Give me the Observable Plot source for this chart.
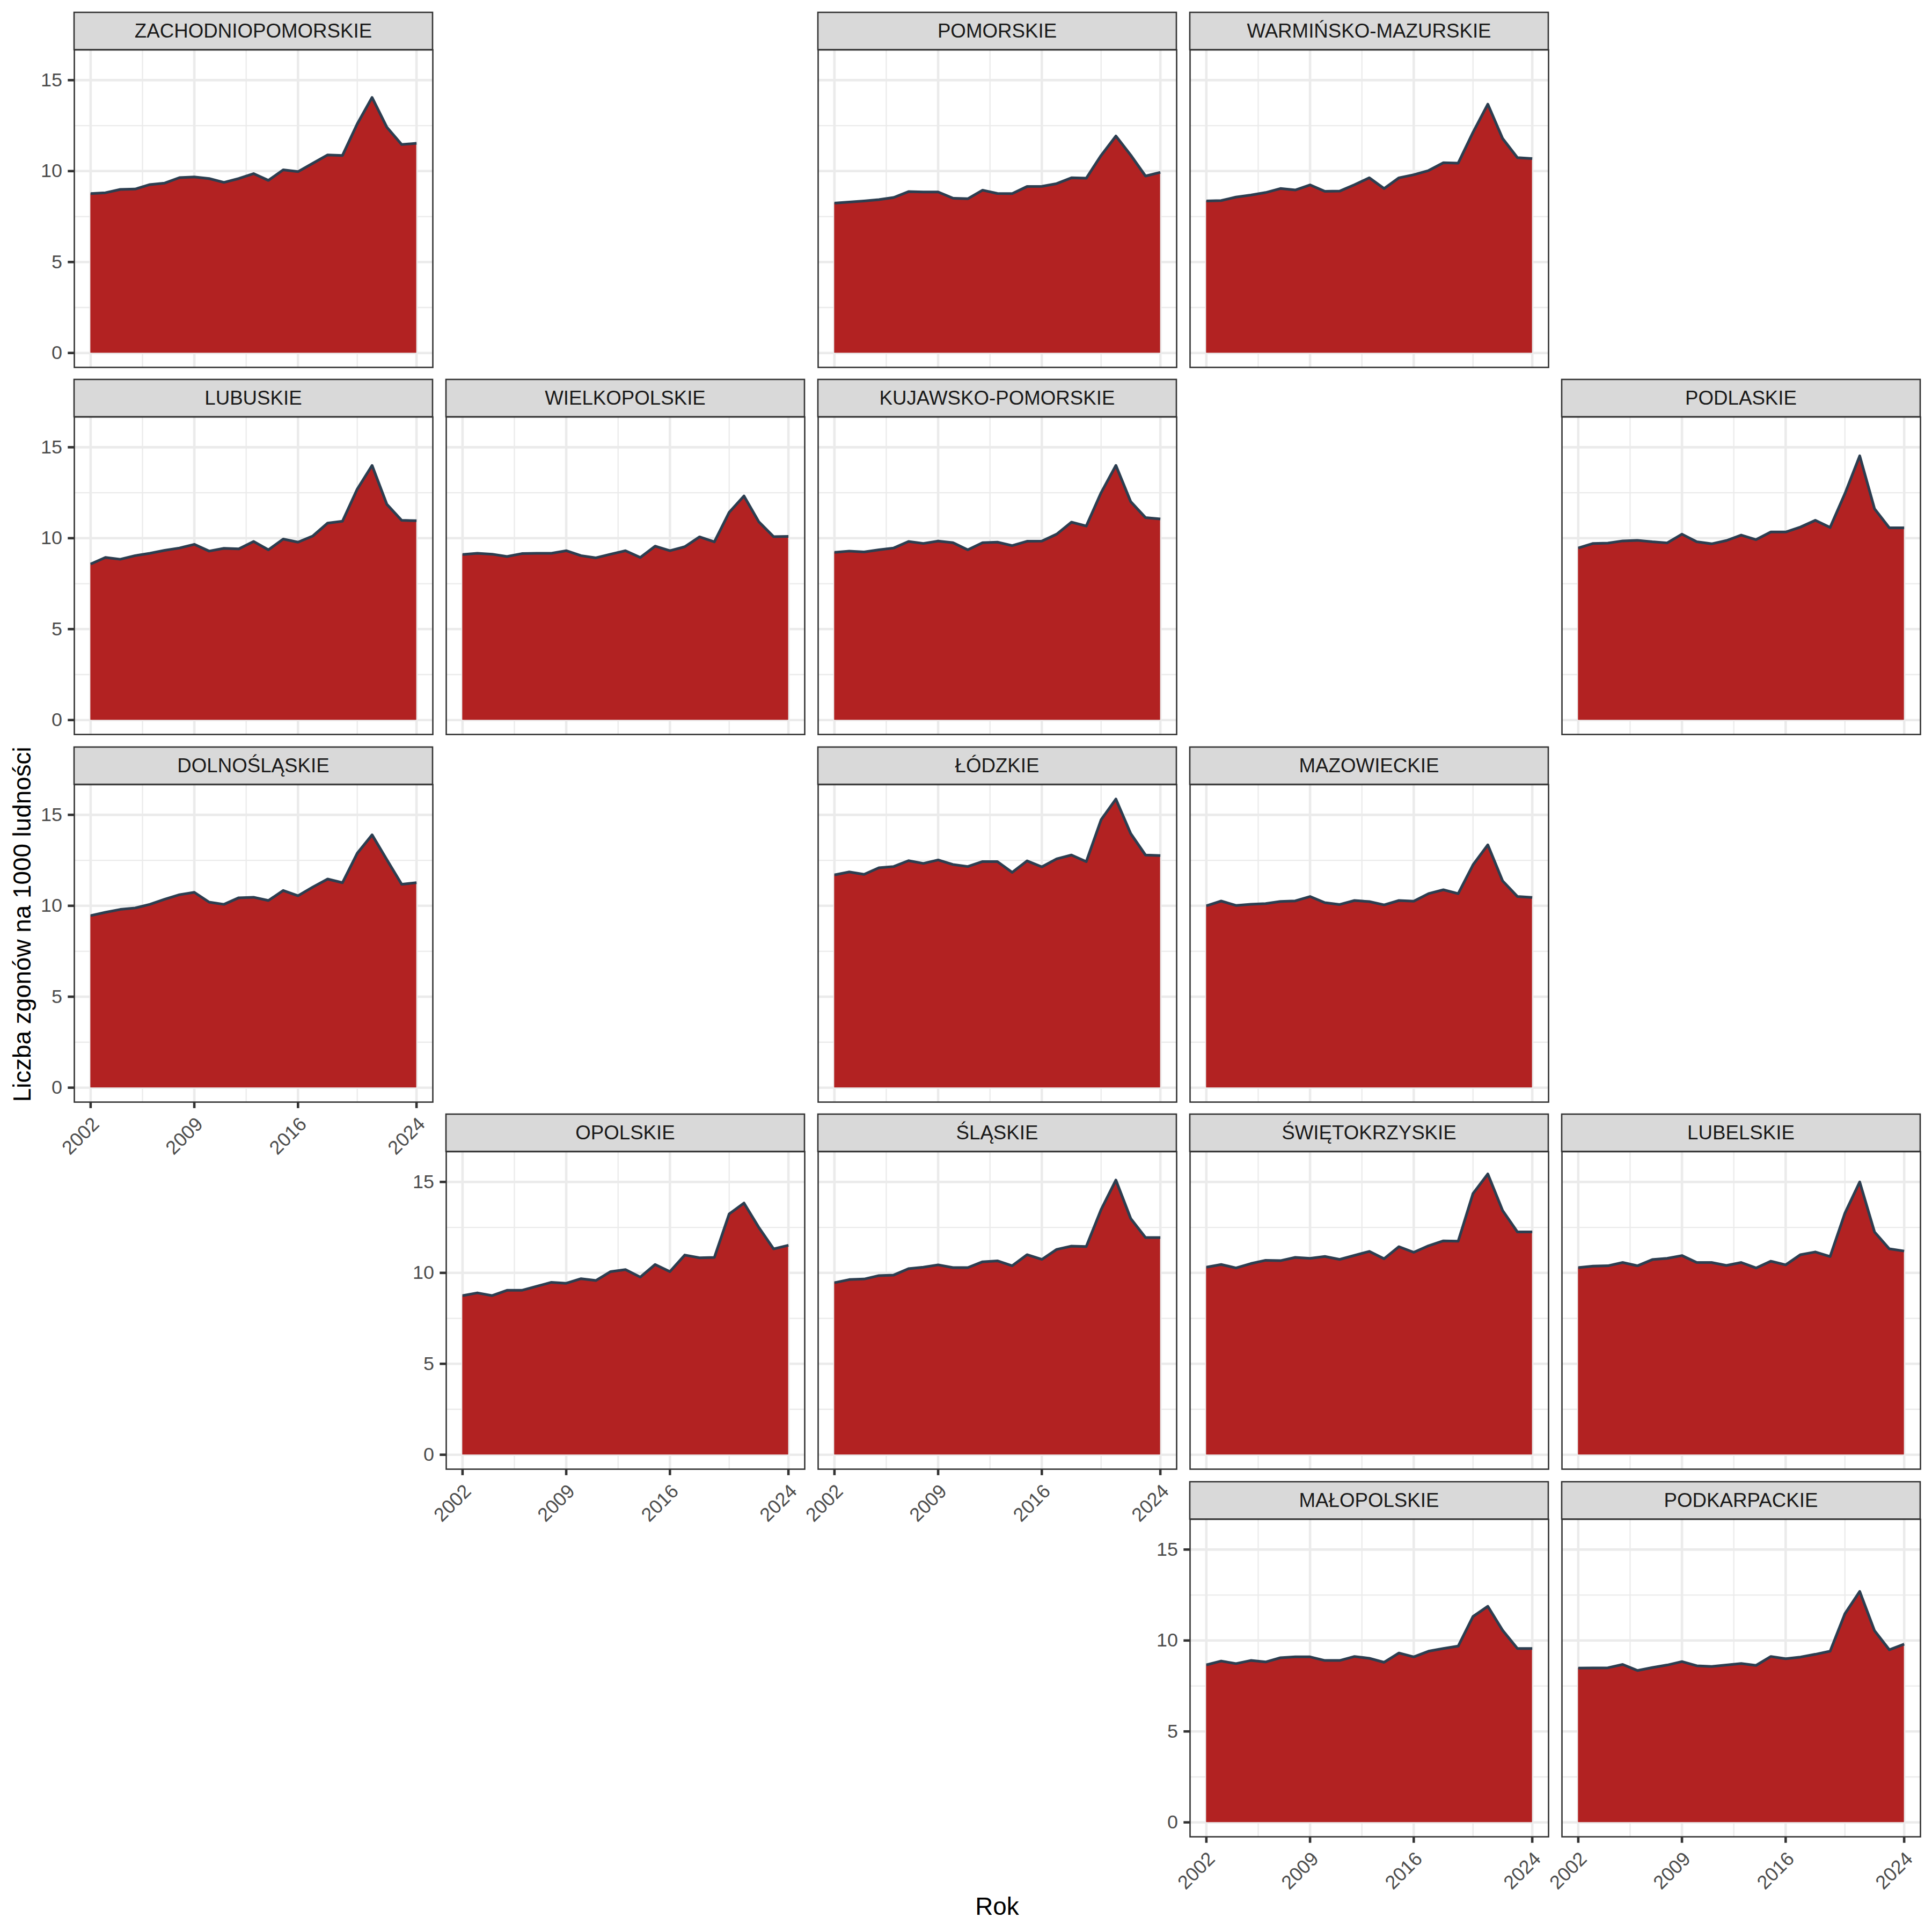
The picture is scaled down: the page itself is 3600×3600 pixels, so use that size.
<!DOCTYPE html>
<html>
<head>
<meta charset="utf-8">
<script src="https://cdn.jsdelivr.net/npm/d3@7"></script>
<script src="https://cdn.jsdelivr.net/npm/@observablehq/plot@0.6"></script>
<style>
  html, body { margin: 0; padding: 0; background: #ffffff; }
  #chart { position: relative; width: 3600px; height: 3600px; background: #ffffff; font-family: "Liberation Sans", Arial, sans-serif; }
  #chart svg { position: absolute; overflow: visible; }
</style>
</head>
<body>
<div id="chart"></div>
<script>
// ---------------- DATA ----------------
const years = [2002, 2003, 2004, 2005, 2006, 2007, 2008, 2009, 2010, 2011, 2012, 2013, 2014, 2015, 2016, 2017, 2018, 2019, 2020, 2021, 2022, 2023, 2024];

const regionNames = [
  "ZACHODNIOPOMORSKIE", "POMORSKIE", "WARMIŃSKO-MAZURSKIE",
  "LUBUSKIE", "WIELKOPOLSKIE", "KUJAWSKO-POMORSKIE", "PODLASKIE",
  "DOLNOŚLĄSKIE", "ŁÓDZKIE", "MAZOWIECKIE",
  "OPOLSKIE", "ŚLĄSKIE", "ŚWIĘTOKRZYSKIE", "LUBELSKIE",
  "MAŁOPOLSKIE", "PODKARPACKIE"
];

// geographic grid (row, column) of each region
const gridRow = [0, 0, 0, 1, 1, 1, 1, 2, 2, 2, 3, 3, 3, 3, 4, 4];
const gridCol = [0, 2, 3, 0, 1, 2, 4, 0, 2, 3, 1, 2, 3, 4, 3, 4];

const zachodniopomorskie = [8.76, 8.81, 8.99, 9.01, 9.26, 9.34, 9.64, 9.68, 9.59, 9.38, 9.59, 9.86, 9.49, 10.07, 9.97, 10.43, 10.89, 10.86, 12.60, 14.05, 12.41, 11.46, 11.53];
const pomorskie = [8.24, 8.30, 8.36, 8.43, 8.55, 8.87, 8.85, 8.85, 8.51, 8.48, 8.95, 8.77, 8.76, 9.15, 9.16, 9.31, 9.63, 9.61, 10.86, 11.93, 10.88, 9.73, 9.93];
const warminskoMazurskie = [8.36, 8.38, 8.57, 8.68, 8.82, 9.04, 8.96, 9.24, 8.89, 8.90, 9.25, 9.63, 9.04, 9.63, 9.80, 10.03, 10.46, 10.44, 12.13, 13.68, 11.79, 10.74, 10.69];
const lubuskie = [8.58, 8.94, 8.84, 9.04, 9.17, 9.33, 9.46, 9.66, 9.29, 9.44, 9.41, 9.82, 9.36, 9.95, 9.78, 10.12, 10.83, 10.93, 12.70, 14.00, 11.86, 10.98, 10.96];
const wielkopolskie = [9.10, 9.17, 9.12, 8.99, 9.15, 9.17, 9.17, 9.31, 9.04, 8.92, 9.12, 9.31, 8.94, 9.56, 9.31, 9.53, 10.07, 9.80, 11.42, 12.32, 10.90, 10.08, 10.10];
const kujawskoPomorskie = [9.22, 9.29, 9.24, 9.36, 9.46, 9.82, 9.71, 9.84, 9.75, 9.36, 9.75, 9.78, 9.59, 9.83, 9.84, 10.22, 10.88, 10.67, 12.50, 14.00, 12.01, 11.13, 11.06];
const podlaskie = [9.46, 9.71, 9.73, 9.85, 9.88, 9.80, 9.74, 10.22, 9.80, 9.69, 9.87, 10.17, 9.92, 10.34, 10.34, 10.61, 10.98, 10.59, 12.45, 14.53, 11.62, 10.57, 10.57];
const dolnoslaskie = [9.46, 9.64, 9.80, 9.88, 10.08, 10.36, 10.61, 10.74, 10.20, 10.08, 10.44, 10.47, 10.29, 10.84, 10.55, 11.03, 11.47, 11.27, 12.89, 13.90, 12.53, 11.18, 11.27];
const lodzkie = [11.70, 11.86, 11.73, 12.09, 12.16, 12.48, 12.33, 12.52, 12.27, 12.16, 12.43, 12.43, 11.84, 12.47, 12.14, 12.58, 12.79, 12.43, 14.73, 15.87, 13.97, 12.79, 12.76];
const mazowieckie = [10.00, 10.26, 10.02, 10.08, 10.12, 10.24, 10.27, 10.51, 10.17, 10.07, 10.29, 10.23, 10.05, 10.29, 10.25, 10.67, 10.88, 10.67, 12.25, 13.35, 11.37, 10.51, 10.46];
const opolskie = [8.75, 8.90, 8.75, 9.04, 9.04, 9.26, 9.48, 9.43, 9.68, 9.58, 10.07, 10.18, 9.77, 10.46, 10.07, 10.98, 10.83, 10.85, 13.24, 13.84, 12.50, 11.32, 11.52];
const slaskie = [9.46, 9.63, 9.66, 9.85, 9.88, 10.23, 10.31, 10.44, 10.29, 10.29, 10.61, 10.66, 10.39, 11.00, 10.74, 11.29, 11.47, 11.45, 13.48, 15.10, 12.99, 11.94, 11.94];
const swietokrzyskie = [10.31, 10.46, 10.27, 10.51, 10.69, 10.67, 10.85, 10.80, 10.90, 10.74, 10.96, 11.18, 10.78, 11.44, 11.13, 11.49, 11.76, 11.74, 14.36, 15.44, 13.43, 12.25, 12.25];
const lubelskie = [10.29, 10.37, 10.39, 10.57, 10.39, 10.73, 10.80, 10.95, 10.57, 10.57, 10.41, 10.57, 10.27, 10.64, 10.44, 11.00, 11.15, 10.90, 13.28, 15.00, 12.25, 11.32, 11.20];
const malopolskie = [8.66, 8.87, 8.73, 8.90, 8.82, 9.05, 9.10, 9.10, 8.90, 8.90, 9.12, 9.02, 8.80, 9.31, 9.10, 9.41, 9.56, 9.69, 11.32, 11.88, 10.56, 9.56, 9.56];
const podkarpackie = [8.48, 8.49, 8.50, 8.68, 8.35, 8.51, 8.65, 8.84, 8.61, 8.57, 8.65, 8.73, 8.63, 9.12, 9.00, 9.09, 9.24, 9.41, 11.47, 12.70, 10.54, 9.49, 9.80];

const seriesValues = [
  zachodniopomorskie, pomorskie, warminskoMazurskie,
  lubuskie, wielkopolskie, kujawskoPomorskie, podlaskie,
  dolnoslaskie, lodzkie, mazowieckie,
  opolskie, slaskie, swietokrzyskie, lubelskie,
  malopolskie, podkarpackie
];

const xTicks = [2002, 2009, 2016, 2024];
const yTicks = [0, 5, 10, 15];
const xTitle = "Rok";
const yTitle = "Liczba zgonów na 1000 ludności";

// ---------------- LAYOUT / STYLE ----------------
const FONT = '"Liberation Sans", Arial, Helvetica, sans-serif';
const PANEL_W = 668;
const PANEL_H = 591.6;
const STRIP_H = 69.5;
const LEFT0 = 137.5;
const COL_PITCH = 693.2;
const TOP0 = 23;
const ROW_PITCH = 684.4;
const AREA_FILL = "#B22222";
const LINE_COLOR = "#2C3E50";
const GRID = "#EBEBEB";
const BORDER = "#333333";
const STRIP_FILL = "#D9D9D9";
const AXIS_TEXT = "#4D4D4D";
const STRIP_TEXT = "#1A1A1A";
const AXIS_FONT = 36;
const STRIP_FONT = 36.7;
const TITLE_FONT = 45.8;

const table = regionNames.flatMap((region, i) =>
  years.map((year, j) => ({region, year, value: seriesValues[i][j]}))
);

const yMax = d3.max(table, d => d.value);
const yDomain = [-0.05 * yMax, 1.05 * yMax];
const xSpan = years[years.length - 1] - years[0];
const xDomain = [years[0] - 0.05 * xSpan, years[years.length - 1] + 0.05 * xSpan];
const xMinor = d3.pairs(xTicks, (a, b) => (a + b) / 2);
const yMinor = d3.pairs(yTicks, (a, b) => (a + b) / 2);

function stripMark(label, ml) {
  return () => {
    const g = d3.create("svg:g");
    g.append("rect")
      .attr("x", ml).attr("y", 0)
      .attr("width", PANEL_W).attr("height", STRIP_H)
      .attr("fill", STRIP_FILL).attr("stroke", BORDER).attr("stroke-width", 2.6);
    g.append("text")
      .attr("x", ml + PANEL_W / 2).attr("y", STRIP_H / 2)
      .attr("text-anchor", "middle").attr("dominant-baseline", "central")
      .attr("font-size", STRIP_FONT).attr("fill", STRIP_TEXT)
      .attr("font-family", FONT)
      .text(label);
    return g.node();
  };
}

const chart = document.getElementById("chart");

regionNames.forEach((name, i) => {
  const r = gridRow[i], c = gridCol[i];
  const hasY = !regionNames.some((_, k) => gridRow[k] === r && gridCol[k] < c);
  const hasX = !regionNames.some((_, k) => gridCol[k] === c && gridRow[k] > r);
  const ml = hasY ? 150 : 3;
  const mr = 3;
  const mb = hasX ? 170 : 3;
  const data = table.filter(d => d.region === name);

  const marks = [
    Plot.gridX({ticks: xMinor, stroke: GRID, strokeOpacity: 1, strokeWidth: 2.3}),
    Plot.gridY({ticks: yMinor, stroke: GRID, strokeOpacity: 1, strokeWidth: 2.3}),
    Plot.gridX({ticks: xTicks, stroke: GRID, strokeOpacity: 1, strokeWidth: 4.6}),
    Plot.gridY({ticks: yTicks, stroke: GRID, strokeOpacity: 1, strokeWidth: 4.6}),
    Plot.areaY(data, {x: "year", y: "value", fill: AREA_FILL}),
    Plot.lineY(data, {x: "year", y: "value", stroke: LINE_COLOR, strokeWidth: 5, strokeLinejoin: "round", strokeLinecap: "butt"}),
    Plot.frame({stroke: BORDER, strokeWidth: 2.6}),
    stripMark(name, ml)
  ];
  if (hasY) marks.push(Plot.axisY({
    ticks: yTicks, tickFormat: d => String(d), tickSize: 11.7, tickPadding: 10.7,
    stroke: BORDER, strokeWidth: 4.6, fill: AXIS_TEXT, fontSize: AXIS_FONT, label: null
  }));
  if (hasX) marks.push(Plot.axisX({
    ticks: xTicks, tickFormat: d => String(d), tickSize: 11.7, tickPadding: 13.5, tickRotate: -45,
    textAnchor: "end", lineAnchor: "top",
    stroke: BORDER, strokeWidth: 4.6, fill: AXIS_TEXT, fontSize: AXIS_FONT, label: null
  }));

  const svg = Plot.plot({
    width: ml + PANEL_W + mr,
    height: STRIP_H + PANEL_H + mb,
    marginTop: STRIP_H, marginLeft: ml, marginRight: mr, marginBottom: mb,
    x: {domain: xDomain, axis: null},
    y: {domain: yDomain, axis: null},
    style: {fontFamily: FONT, fontSize: AXIS_FONT + "px", background: "none", overflow: "visible"},
    marks
  });
  svg.style.left = (LEFT0 + c * COL_PITCH - ml) + "px";
  svg.style.top = (TOP0 + r * ROW_PITCH) + "px";
  chart.appendChild(svg);
});

// axis titles
const nRows = d3.max(gridRow) + 1, nCols = d3.max(gridCol) + 1;
const areaTop = TOP0, areaBottom = TOP0 + (nRows - 1) * ROW_PITCH + STRIP_H + PANEL_H;
const areaLeft = LEFT0, areaRight = LEFT0 + (nCols - 1) * COL_PITCH + PANEL_W;
const titles = d3.create("svg")
  .attr("width", 3600).attr("height", 3600)
  .style("left", "0px").style("top", "0px")
  .attr("font-family", FONT);
titles.append("text")
  .attr("transform", `translate(57.4,${(areaTop + areaBottom) / 2}) rotate(-90)`)
  .attr("text-anchor", "middle").attr("font-size", TITLE_FONT).attr("fill", "#000")
  .text(yTitle);
titles.append("text")
  .attr("x", (areaLeft + areaRight) / 2).attr("y", 3568)
  .attr("text-anchor", "middle").attr("font-size", TITLE_FONT).attr("fill", "#000")
  .text(xTitle);
chart.appendChild(titles.node());
</script>
</body>
</html>
